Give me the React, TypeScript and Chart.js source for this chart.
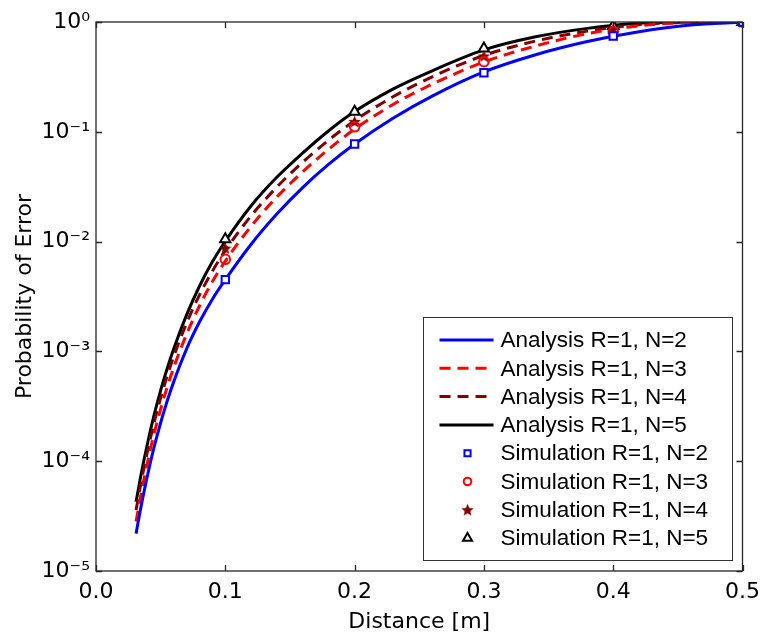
import React, { useEffect, useRef } from 'react';
import { Chart, registerables } from 'chart.js';
import { drawPoint } from 'chart.js/helpers';
Chart.register(...registerables);

// ---------- data ----------
const xAnalysis = [0.031, 0.035, 0.04, 0.045, 0.05, 0.055, 0.06, 0.07, 0.08, 0.09, 0.1, 0.12, 0.14, 0.16, 0.18, 0.2, 0.23, 0.26, 0.3, 0.34, 0.38, 0.42, 0.46, 0.5];
const analysisN2 = [2.19e-5, 3.96e-5, 7.59e-5, 1.355e-4, 2.24e-4, 3.51e-4, 5.25e-4, 1.05e-3, 1.85e-3, 2.99e-3, 4.5e-3, 9.46e-3, 0.0179, 0.0312, 0.0507, 0.0775, 0.1337, 0.2116, 0.351, 0.5035, 0.664, 0.815, 0.938, 1.0];
const analysisN3 = [2.82e-5, 5.16e-5, 1.0e-4, 1.795e-4, 2.985e-4, 4.71e-4, 7.08e-4, 1.43e-3, 2.59e-3, 4.32e-3, 6.65e-3, 0.01384, 0.0256, 0.0434, 0.0695, 0.1057, 0.1782, 0.2714, 0.432, 0.605, 0.783, 0.925, 0.99, 1.0];
const analysisN4 = [3.59e-5, 6.53e-5, 1.26e-4, 2.26e-4, 3.76e-4, 5.93e-4, 8.91e-4, 1.8e-3, 3.26e-3, 5.38e-3, 8.28e-3, 0.0172, 0.0315, 0.053, 0.0841, 0.1262, 0.2094, 0.3166, 0.496, 0.671, 0.826, 0.946, 0.993, 1.0];
const analysisN5 = [4.27e-5, 7.73e-5, 1.48e-4, 2.65e-4, 4.42e-4, 6.95e-4, 1.047e-3, 2.14e-3, 3.92e-3, 6.54e-3, 0.01007, 0.0212, 0.0387, 0.0644, 0.1023, 0.1528, 0.246, 0.3593, 0.5566, 0.733, 0.875, 0.975, 0.997, 1.0];

const xSim = [0.1, 0.2, 0.3, 0.4, 0.5];
const simN2 = [4.5e-3, 0.0775, 0.345, 0.745, 1.0];
const simN3 = [6.9e-3, 0.111, 0.435, 0.817, 1.0];
const simN4 = [8.7e-3, 0.124, 0.49, 0.87, 1.0];
const simN5 = [0.0105, 0.152, 0.575, 0.92, 1.0];

const analysisLabels = ['Analysis R=1, N=2', 'Analysis R=1, N=3', 'Analysis R=1, N=4', 'Analysis R=1, N=5'];
const simLabels = ['Simulation R=1, N=2', 'Simulation R=1, N=3', 'Simulation R=1, N=4', 'Simulation R=1, N=5'];

const xTicks = [0, 0.1, 0.2, 0.3, 0.4, 0.5];
const xTickLabels = ['0.0', '0.1', '0.2', '0.3', '0.4', '0.5'];
const yTicks = [1e-5, 1e-4, 1e-3, 1e-2, 1e-1, 1];
const yTickLabels = ['10⁻⁵', '10⁻⁴', '10⁻³', '10⁻²', '10⁻¹', '10⁰'];

const xTitle = 'Distance [m]';
const yTitle = 'Probability of Error';

// ---------- styles ----------
const BLUE = '#0000ff';
const RED = '#ff0000';
const DARKRED = '#800000';
const BLACK = '#000000';
const FONT = 'DejaVu Sans';
const LEGEND_FONT = '"Liberation Sans", Arial, sans-serif';

function makeStar(color: string, r: number): HTMLCanvasElement {
  const c = document.createElement('canvas');
  const s = Math.ceil(r * 2 + 2);
  c.width = s;
  c.height = s;
  const ctx = c.getContext('2d')!;
  ctx.fillStyle = color;
  ctx.beginPath();
  for (let i = 0; i < 10; i++) {
    const rad = i % 2 === 0 ? r : r * 0.45;
    const a = -Math.PI / 2 + (i * Math.PI) / 5;
    const px = s / 2 + rad * Math.cos(a);
    const py = s / 2 + 0.6 + rad * Math.sin(a);
    if (i === 0) ctx.moveTo(px, py);
    else ctx.lineTo(px, py);
  }
  ctx.closePath();
  ctx.fill();
  return c;
}

const toPts = (xs: number[], ys: number[]) => xs.map((x, i) => ({ x, y: ys[i] }));

const frameAndLegend = {
  id: 'frameAndLegend',
  afterDatasetsDraw(chart: any) {
    const { ctx, chartArea } = chart;
    const { left, right, top, bottom } = chartArea;
    const xs = chart.scales.x;
    const ys = chart.scales.y;
    ctx.save();
    // frame
    ctx.strokeStyle = '#262626';
    ctx.lineWidth = 1.3;
    ctx.strokeRect(left, top, right - left, bottom - top);
    // inward ticks
    ctx.beginPath();
    xTicks.forEach((v) => {
      const px = Math.round(xs.getPixelForValue(v)) + 0.5;
      ctx.moveTo(px, bottom);
      ctx.lineTo(px, bottom - 6);
      ctx.moveTo(px, top);
      ctx.lineTo(px, top + 6);
    });
    yTicks.forEach((v) => {
      const py = Math.round(ys.getPixelForValue(v)) + 0.5;
      ctx.moveTo(left, py);
      ctx.lineTo(left + 6, py);
      ctx.moveTo(right, py);
      ctx.lineTo(right - 6, py);
    });
    ctx.stroke();

    // legend
    const bw = 309;
    const bh = 243;
    const bx = right - 11 - bw;
    const by = bottom - 11 - bh;
    ctx.fillStyle = '#ffffff';
    ctx.fillRect(bx, by, bw, bh);
    ctx.strokeStyle = '#333333';
    ctx.lineWidth = 1;
    ctx.strokeRect(Math.round(bx) + 0.5, Math.round(by) + 0.5, bw, bh);
    const datasets = chart.data.datasets;
    datasets.forEach((ds: any, i: number) => {
      const cy = by + 23 + i * 28.3;
      if (ds.showLine) {
        ctx.save();
        ctx.strokeStyle = ds.borderColor;
        ctx.lineWidth = ds.borderWidth;
        ctx.setLineDash(ds.borderDash || []);
        ctx.beginPath();
        ctx.moveTo(bx + 17, cy);
        ctx.lineTo(bx + 71, cy);
        ctx.stroke();
        ctx.restore();
      } else {
        ctx.save();
        ctx.fillStyle = ds.pointBackgroundColor;
        ctx.strokeStyle = ds.pointBorderColor;
        ctx.lineWidth = ds.pointBorderWidth;
        drawPoint(ctx, {
          pointStyle: ds.pointStyle,
          radius: ds.legendRadius,
          rotation: 0,
          borderWidth: ds.pointBorderWidth,
        }, bx + 45, cy);
        ctx.restore();
      }
      ctx.fillStyle = '#000';
      ctx.font = `22.5px ${LEGEND_FONT}`;
      ctx.textBaseline = 'middle';
      ctx.textAlign = 'left';
      ctx.fillText(ds.label, bx + 78, cy + 1);
    });
    ctx.restore();
  },
};

export default function App() {
  const ref = useRef<HTMLCanvasElement | null>(null);
  useEffect(() => {
    if (!ref.current) return;
    const star = makeStar(DARKRED, 6.5);
    const lineDs = (label: string, ys: number[], color: string, dash: number[]) => ({
      label,
      data: toPts(xAnalysis, ys),
      showLine: true,
      borderColor: color,
      backgroundColor: color,
      borderWidth: 3,
      borderDash: dash,
      pointRadius: 0,
      pointHoverRadius: 0,
      cubicInterpolationMode: 'monotone',
      order: 1,
    });
    const simDs = (label: string, ys: number[], color: string, style: any, radius: number, legendRadius: number, bg: string) => ({
      label,
      data: toPts(xSim, ys),
      showLine: false,
      pointStyle: style,
      pointRadius: radius,
      legendRadius,
      pointBorderColor: color,
      pointBackgroundColor: bg,
      pointBorderWidth: 2,
      borderColor: color,
      backgroundColor: bg,
      order: 0,
    });
    const chart = new Chart(ref.current, {
      type: 'scatter',
      data: {
        datasets: [
          lineDs(analysisLabels[0], analysisN2, BLUE, []),
          lineDs(analysisLabels[1], analysisN3, RED, [11, 7]),
          lineDs(analysisLabels[2], analysisN4, DARKRED, [11, 7]),
          lineDs(analysisLabels[3], analysisN5, BLACK, []),
          simDs(simLabels[0], simN2, BLUE, 'rect', 5.2, 4.3, '#ffffff'),
          simDs(simLabels[1], simN3, RED, 'circle', 4.8, 3.8, 'rgba(255,255,255,0)'),
          simDs(simLabels[2], simN4, DARKRED, star, 6, 6, DARKRED),
          simDs(simLabels[3], simN5, BLACK, 'triangle', 6, 5.2, '#ffffff'),
        ] as any,
      },
      options: {
        responsive: false,
        animation: false,
        events: [],
        layout: { padding: { top: 22, right: 20, left: 0, bottom: 0 } },
        plugins: {
          legend: { display: false },
          tooltip: { enabled: false },
        },
        scales: {
          x: {
            type: 'linear',
            min: 0,
            max: 0.5,
            grid: { display: false, drawTicks: false },
            border: { display: false },
            afterBuildTicks: (s: any) => {
              s.ticks = xTicks.map((v) => ({ value: v }));
            },
            afterFit: (s: any) => {
              s.height = 67;
            },
            ticks: {
              autoSkip: false,
              maxRotation: 0,
              padding: 8,
              color: '#000',
              font: { family: FONT, size: 22 },
              callback: (_v: any, i: number) => xTickLabels[i],
            },
            title: {
              display: true,
              text: xTitle,
              color: '#000',
              font: { family: FONT, size: 22 },
              padding: { top: 0, bottom: 3 },
            },
          },
          y: {
            type: 'logarithmic',
            min: 1e-5,
            max: 1,
            grid: { display: false, drawTicks: false },
            border: { display: false },
            afterBuildTicks: (s: any) => {
              s.ticks = yTicks.map((v) => ({ value: v }));
            },
            afterFit: (s: any) => {
              s.width = 96;
            },
            ticks: {
              autoSkip: false,
              padding: 6,
              color: '#000',
              font: { family: FONT, size: 22 },
              callback: (_v: any, i: number) => yTickLabels[i],
            },
            title: {
              display: true,
              text: yTitle,
              color: '#000',
              font: { family: FONT, size: 22 },
              padding: { top: 12, bottom: 0 },
            },
          },
        },
      },
      plugins: [frameAndLegend],
    });
    return () => chart.destroy();
  }, []);
  return (
    <div style={{ position: 'absolute', left: 0, top: 0, width: 768, height: 638, background: '#fff' }}>
      <canvas ref={ref} width={768} height={638} />
    </div>
  );
}
